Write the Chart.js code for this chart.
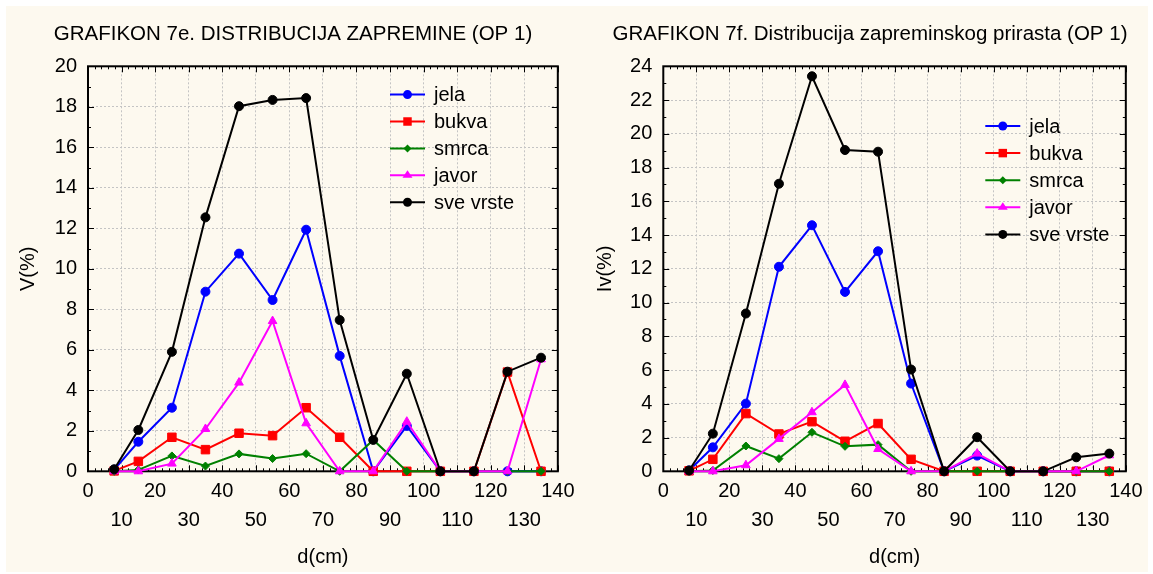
<!DOCTYPE html>
<html>
<head>
<meta charset="utf-8">
<script src="https://cdn.jsdelivr.net/npm/chart.js@4.4.0/dist/chart.umd.min.js"></script>
<style>
  html, body { margin: 0; padding: 0; background: #fff; }
  #panel { position: absolute; left: 6px; top: 6px; width: 1142px; height: 566px; background: #fdf9ef; }
  #wrapE { position: absolute; left: 0; top: 0; width: 574px; height: 566px; }
  #wrapF { position: absolute; left: 574px; top: 0; width: 568px; height: 566px; }
</style>
</head>
<body>
<div id="panel">
  <div id="wrapE"><canvas id="chartE"></canvas></div>
  <div id="wrapF"><canvas id="chartF"></canvas></div>
</div>
<script>
// debljinski stepeni (sredine klasa), cm
const diameters = [7.8, 15, 25, 35, 45, 55, 65, 75, 85, 95, 105, 115, 125, 135];
const seriesNames = ['jela', 'bukva', 'smrca', 'javor', 'sve vrste'];

// Grafikon 7e - zapremina V(%)
const jelaV  = [0.08, 1.46, 3.14, 8.87, 10.75, 8.46, 11.93, 5.7, 0, 2.24, 0, 0, 0, 0];
const bukvaV = [0.02, 0.49, 1.68, 1.07, 1.88, 1.76, 3.14, 1.68, 0, 0, 0, 0, 4.9, 0];
const smrcaV = [0, 0.07, 0.76, 0.26, 0.86, 0.63, 0.87, 0, 1.55, 0, 0, 0, 0, 0];
const javorV = [0, 0, 0.38, 2.09, 4.38, 7.42, 2.37, 0, 0, 2.45, 0, 0, 0, 5.53];
const sveV   = [0.1, 2.04, 5.9, 12.54, 18.03, 18.34, 18.43, 7.47, 1.55, 4.82, 0, 0, 4.92, 5.61];

// Grafikon 7f - zapreminski prirast Iv(%)
const jelaIv  = [0.05, 1.42, 4.01, 12.12, 14.58, 10.63, 13.04, 5.2, 0, 0.93, 0, 0, 0, 0];
const bukvaIv = [0.03, 0.71, 3.42, 2.21, 2.94, 1.78, 2.83, 0.71, 0, 0, 0, 0, 0, 0];
const smrcaIv = [0, 0.05, 1.5, 0.75, 2.31, 1.48, 1.58, 0, 0, 0, 0, 0, 0, 0];
const javorIv = [0, 0, 0.36, 1.92, 3.5, 5.12, 1.32, 0, 0, 1.05, 0, 0, 0, 0.95];
const sveIv   = [0.05, 2.23, 9.35, 17.04, 23.41, 19.04, 18.94, 6.03, 0, 2.02, 0, 0, 0.83, 1.05];

const colors  = ['#0000ff', '#ff0000', '#008000', '#ff00ff', '#000000'];
const markers = ['circle', 'rect', 'rectRot', 'triangle', 'circle'];
const radii   = [4.5, 6, 4, 5, 4.5];

Chart.defaults.font.family = '"Liberation Sans", Arial, sans-serif';
Chart.defaults.color = '#000';

function drawMarker(ctx, style, r, x, y) {
    ctx.beginPath();
    if (style === 'circle') {
        ctx.arc(x, y, r, 0, Math.PI * 2);
    } else if (style === 'rect') {
        const s = r * Math.SQRT1_2;
        ctx.rect(x - s, y - s, 2 * s, 2 * s);
    } else if (style === 'rectRot') {
        ctx.moveTo(x, y - r); ctx.lineTo(x + r, y); ctx.lineTo(x, y + r); ctx.lineTo(x - r, y);
        ctx.closePath();
    } else if (style === 'triangle') {
        const h = r * 1.5, w = r * Math.sqrt(3) / 2;
        ctx.moveTo(x, y - r); ctx.lineTo(x + w * 1.15, y + h - r); ctx.lineTo(x - w * 1.15, y + h - r);
        ctx.closePath();
    }
    ctx.fill();
}

// okvir oko grafika + unutrasnje crtice
const framePlugin = {
    id: 'frame',
    beforeDatasetsDraw(chart, args, opts) {
        const {ctx, chartArea: a, scales: {x, y}} = chart;
        ctx.save();
        ctx.strokeStyle = '#000';
        ctx.lineWidth = 1;
        ctx.beginPath();
        for (let v = x.min; v <= x.max; v += 2) {
            const px = Math.round(x.getPixelForValue(v)) + 0.5;
            const len = v % 10 === 0 ? 6 : 3;
            ctx.moveTo(px, a.bottom); ctx.lineTo(px, a.bottom - len);
            ctx.moveTo(px, a.top); ctx.lineTo(px, a.top + len);
        }
        for (let v = y.min; v <= y.max; v += 1) {
            const py = Math.round(y.getPixelForValue(v)) + 0.5;
            const len = v % 2 === 0 ? 6 : 3;
            ctx.moveTo(a.left, py); ctx.lineTo(a.left + len, py);
            ctx.moveTo(a.right, py); ctx.lineTo(a.right - len, py);
        }
        ctx.stroke();
        ctx.lineWidth = 2;
        ctx.strokeRect(a.left, a.top, a.width, a.height);
        ctx.restore();
    }
};

// legenda unutar grafika
const legendPlugin = {
    id: 'insideLegend',
    afterDatasetsDraw(chart, args, opts) {
        const {ctx, chartArea: a} = chart;
        ctx.save();
        ctx.font = '20px "Liberation Sans", Arial, sans-serif';
        ctx.textBaseline = 'middle';
        chart.data.datasets.forEach((ds, i) => {
            const x0 = a.left + opts.left;
            const y0 = a.top + opts.top + i * opts.gap;
            ctx.strokeStyle = ds.borderColor;
            ctx.fillStyle = ds.backgroundColor;
            ctx.lineWidth = 2;
            ctx.beginPath();
            ctx.moveTo(x0, y0); ctx.lineTo(x0 + 35, y0);
            ctx.stroke();
            drawMarker(ctx, ds.pointStyle, ds.pointRadius, x0 + 17.5, y0);
            ctx.fillStyle = '#000';
            ctx.fillText(ds.label, x0 + 44, y0 + 1);
        });
        ctx.restore();
    }
};

function buildChart(id, title, yTitle, yMax, series, lay) {
    const datasets = series.map((vals, i) => ({
        label: seriesNames[i],
        data: vals.map((v, k) => ({x: diameters[k], y: v})),
        borderColor: colors[i],
        backgroundColor: colors[i],
        borderWidth: 2,
        pointStyle: markers[i],
        pointRadius: radii[i],
        pointBorderWidth: 1,
        tension: 0,
        clip: false,
        order: series.length - 1 - i
    }));

    return new Chart(document.getElementById(id), {
        type: 'line',
        data: { datasets: datasets },
        plugins: [framePlugin, legendPlugin],
        options: {
            responsive: true,
            maintainAspectRatio: false,
            animation: false,
            events: [],
            layout: { padding: { left: lay.padL, right: lay.padR, top: 0, bottom: 0 } },
            plugins: {
                legend: { display: false },
                tooltip: { enabled: false },
                title: {
                    display: true,
                    text: title,
                    font: { size: 20.5, weight: 'normal' },
                    color: '#000',
                    padding: { top: 16.2, bottom: 19.5 }
                },
                insideLegend: { left: lay.legLeft, top: lay.legTop, gap: lay.legGap }
            },
            scales: {
                x: {
                    type: 'linear',
                    min: 0,
                    max: 140,
                    afterFit: s => { s.height = 100.7; },
                    border: { display: false, dash: [2, 2] },
                    grid: { color: '#c4c4c4', drawTicks: false },
                    ticks: {
                        stepSize: 10,
                        autoSkip: false,
                        maxRotation: 0,
                        minRotation: 0,
                        padding: 5.5,
                        font: { size: 20, lineHeight: 1.45 },
                        callback: v => (v % 20 === 0 ? [String(v), ''] : ['', String(v)])
                    },
                    title: {
                        display: true,
                        text: 'd(cm)',
                        font: { size: 20 },
                        padding: { top: 0, bottom: 3 }
                    }
                },
                y: {
                    min: 0,
                    max: yMax,
                    afterFit: s => { s.width = lay.yWidth; },
                    border: { display: false, dash: [2, 2] },
                    grid: { color: '#c4c4c4', drawTicks: false },
                    ticks: { stepSize: 2, padding: 11, font: { size: 20 } },
                    title: {
                        display: true,
                        text: yTitle,
                        font: { size: 20 },
                        padding: { top: lay.yTitlePad, bottom: 0 }
                    }
                }
            }
        }
    });
}

buildChart('chartE', 'GRAFIKON 7e. DISTRIBUCIJA ZAPREMINE (OP 1)', 'V(%)', 20,
    [jelaV, bukvaV, smrcaV, javorV, sveV],
    { padL: 21.5, padR: 21.5, yWidth: 60.5, yTitlePad: -10.8, legLeft: 302, legTop: 28.3, legGap: 26.9 });

buildChart('chartF', 'GRAFIKON 7f. Distribucija zapreminskog prirasta (OP 1)', 'Iv(%)', 24,
    [jelaIv, bukvaIv, smrcaIv, javorIv, sveIv],
    { padL: 25.6, padR: 13.6, yWidth: 57.7, yTitlePad: -12.6, legLeft: 322, legTop: 59.7, legGap: 27.1 });
</script>
</body>
</html>
